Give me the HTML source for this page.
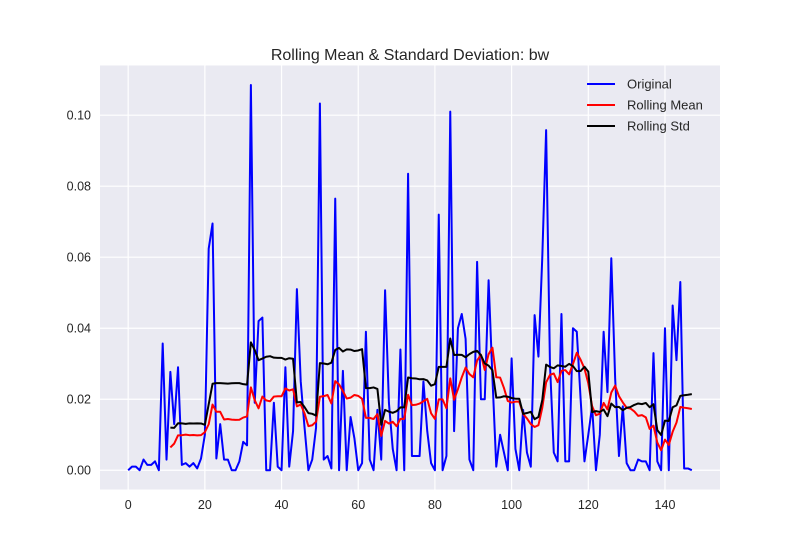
<!DOCTYPE html>
<html><head><meta charset="utf-8"><style>
body{margin:0;background:#fff;}
svg text{font-family:"Liberation Sans",Arial,sans-serif;fill:#262626;}
</style></head><body>
<svg id="chart" width="800" height="550" viewBox="0 0 800 550" xmlns="http://www.w3.org/2000/svg">
<rect x="0" y="0" width="800" height="550" fill="#fff"/>
<rect x="100" y="65.5" width="620" height="424" fill="#EAEAF2"/>
<g id="grid"></g>
<g id="ticks"></g>
<g id="series"></g>
<text x="410" y="60" font-size="16" text-anchor="middle">Rolling Mean &amp; Standard Deviation: bw</text>
<g>
<g><line x1="587" y1="84" x2="615" y2="84" stroke="#0000ff" stroke-width="2"/><text x="627" y="88.5" font-size="13">Original</text></g>
<g><line x1="587" y1="105" x2="615" y2="105" stroke="#ff0000" stroke-width="2"/><text x="627" y="109.5" font-size="13">Rolling Mean</text></g>
<g><line x1="587" y1="126" x2="615" y2="126" stroke="#000" stroke-width="2"/><text x="627" y="130.5" font-size="13">Rolling Std</text></g>
</g>
</svg>
<script>
const original = [0,0.001,0.001,0,0.003,0.0015,0.0015,0.0025,0,0.0357,0.003,0.0277,0.013,0.029,0.0015,0.002,0.001,0.002,0.0005,0.0033,
0.01,0.0624,0.0695,0.0033,0.013,0.003,0.003,0,0,0.0025,0.008,0.007,0.1085,0.019,0.042,0.043,0,0,0.019,0.001,
0,0.029,0.001,0.011,0.051,0.025,0.012,0,0.003,0.012,0.1033,0.003,0.004,0.0005,0.0765,0,0.028,0,0.015,0.009,
0,0.002,0.039,0.003,0,0.017,0.003,0.0507,0.019,0.006,0,0.034,0,0.0835,0.004,0.004,0.004,0.025,0.011,0.002,
0,0.072,0,0.004,0.101,0.011,0.040,0.044,0.037,0.003,0,0.0587,0.020,0.020,0.0535,0.026,0.001,0.010,0.005,0,
0.0315,0.006,0,0.017,0.005,0.001,0.0437,0.032,0.06,0.0958,0.03,0.005,0.0025,0.044,0.0025,0.0025,0.040,0.039,0.02,0.0025,
0.01,0.018,0,0.01,0.039,0.022,0.0597,0.026,0.004,0.018,0.002,0,0,0.003,0.0025,0.0025,0,0.033,0.0025,0,
0.040,0,0.0464,0.031,0.053,0.0005,0.0005,0];
const xTicks = [0,20,40,60,80,100,120,140];
const yTicks = [0,0.02,0.04,0.06,0.08,0.10];
const yTickLabels = ["0.00","0.02","0.04","0.06","0.08","0.10"];
const windowSize = 12;

const NS = "http://www.w3.org/2000/svg";
const X0 = 100, X1 = 720, Y0 = 489.5, Y1 = 65.5;
const xMin = -7.35, xMax = 154.35, yMin = -0.00543, yMax = 0.1140;
function xs(v){return X0 + (v - xMin) / (xMax - xMin) * (X1 - X0);}
function ys(v){return Y0 - (v - yMin) / (yMax - yMin) * (Y0 - Y1);}
function mk(tag, attrs, parent){const e=document.createElementNS(NS,tag);for(const k in attrs)e.setAttribute(k,attrs[k]);parent.appendChild(e);return e;}

const grid = document.getElementById('grid');
const ticks = document.getElementById('ticks');
xTicks.forEach(t=>{
  const l = mk('line',{x1:xs(t),x2:xs(t),y1:Y1,y2:Y0,stroke:'#fff','stroke-width':1.2},grid);
  
  
  const tx = mk('text',{x:xs(t),y:509,'font-size':12.5,'text-anchor':'middle'},ticks);
  tx.textContent = t;
  
  
});
yTicks.forEach((t,i)=>{
  const l = mk('line',{x1:X0,x2:X1,y1:ys(t),y2:ys(t),stroke:'#fff','stroke-width':1.2},grid);
  
  
  const tx = mk('text',{x:91,y:ys(t)+4.5,'font-size':12.5,'text-anchor':'end'},ticks);
  tx.textContent = yTickLabels[i];
  
  
});

const mean = [], std = [];
original.forEach((v,i)=>{
  if(i < windowSize-1){mean.push(null);std.push(null);return;}
  const w = original.slice(i-windowSize+1,i+1);
  const m = w.reduce((a,b)=>a+b,0)/w.length;
  const s = Math.sqrt(w.reduce((a,b)=>a+(b-m)*(b-m),0)/(w.length-1));
  mean.push(m); std.push(s);
});

const series = document.getElementById('series');
function drawLine(arr, color, name){
  const pts = [];
  arr.forEach((v,i)=>{ if(v!==null) pts.push(xs(i).toFixed(2)+','+ys(v).toFixed(2)); });
  const p = mk('polyline',{points:pts.join(' '),fill:'none',stroke:color,'stroke-width':2,'stroke-linejoin':'round'},series);
  
  
}
drawLine(original,'#0000ff','original-line');
drawLine(mean,'#ff0000','rolling-mean-line');
drawLine(std,'#000000','rolling-std-line');
</script>
</body></html>
